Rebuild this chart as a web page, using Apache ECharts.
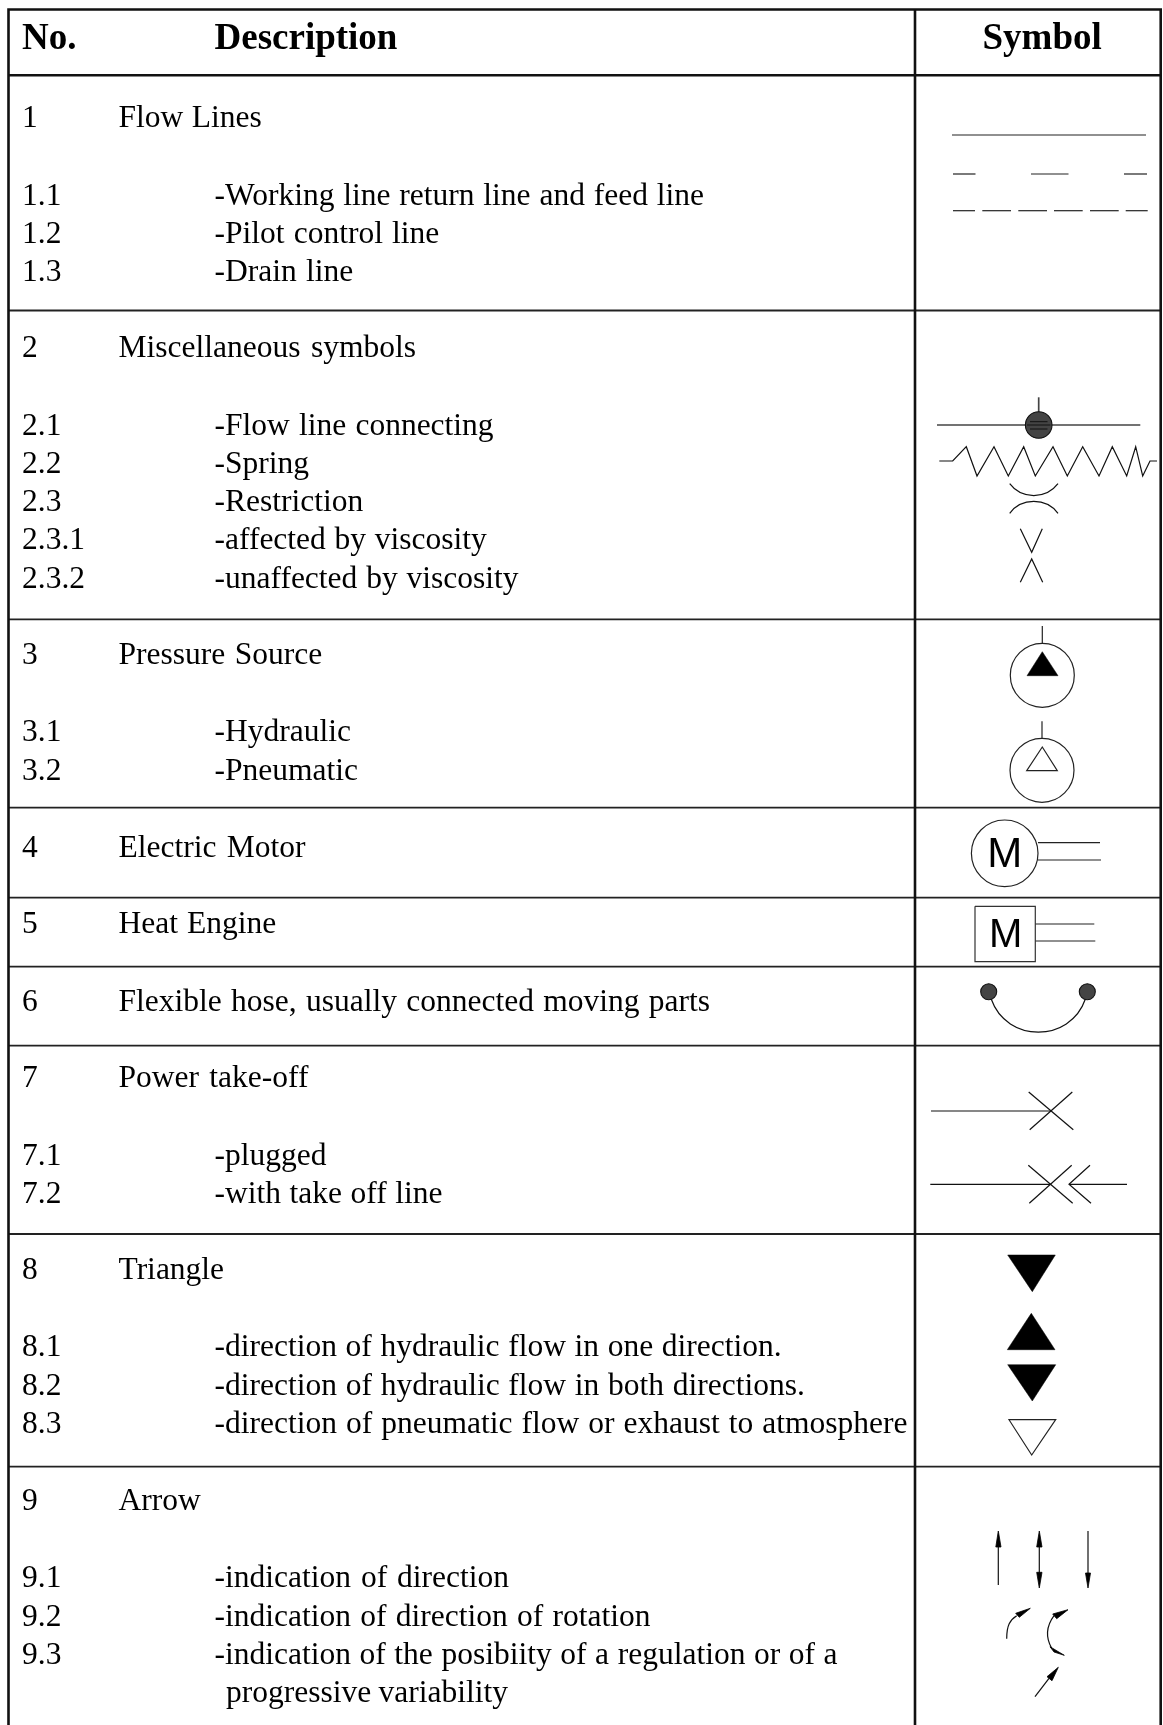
<!DOCTYPE html>
<html>
<head>
<meta charset="utf-8">
<title>Symbols</title>
<script src="https://cdn.jsdelivr.net/npm/echarts@6/dist/echarts.min.js"></script>
<style>
html, body { margin: 0; padding: 0; background: #fff; }
#table { width: 1163px; height: 1725px; }
</style>
</head>
<body>
<div id="table"></div>
<script>
// table text
var headLabels = ['No.', 'Description', 'Symbol'];
var headX = [22, 214.5, 982.5];
var headBaseline = 48.5;

var itemNos = ['1', '1.1', '1.2', '1.3', '2', '2.1', '2.2', '2.3', '2.3.1', '2.3.2', '3', '3.1', '3.2',
    '4', '5', '6', '7', '7.1', '7.2', '8', '8.1', '8.2', '8.3', '9', '9.1', '9.2', '9.3', ''];
var itemTexts = ['Flow Lines', '-Working line return line and feed line', '-Pilot control line', '-Drain line',
    'Miscellaneous symbols', '-Flow line connecting', '-Spring', '-Restriction', '-affected by viscosity', '-unaffected by viscosity',
    'Pressure Source', '-Hydraulic', '-Pneumatic',
    'Electric Motor', 'Heat Engine', 'Flexible hose, usually connected moving parts',
    'Power take-off', '-plugged', '-with take off line',
    'Triangle', '-direction of hydraulic flow in one direction.', '-direction of hydraulic flow in both directions.', '-direction of pneumatic flow or exhaust to atmosphere',
    'Arrow', '-indication of direction', '-indication of direction of rotation', '-indication of the posibiity of a regulation or of a', 'progressive variability'];
var itemBaselines = [126.7, 204, 242.3, 280.7, 356.7, 434, 472, 510.3, 548.7, 587.3, 663.3, 740.7, 779,
    856, 932.7, 1010.7, 1086, 1164.3, 1202.7, 1278.7, 1355.7, 1394.3, 1432.7, 1509.3, 1586.7, 1625, 1663.3, 1701.7];
var itemStarts = [118.5, 214.5, 214.5, 214.5, 118.5, 214.5, 214.5, 214.5, 214.5, 214.5, 118.5, 214.5, 214.5,
    118.5, 118.5, 118.5, 118.5, 214.5, 214.5, 118.5, 214.5, 214.5, 214.5, 118.5, 214.5, 214.5, 214.5, 226];
var itemEnds = [261.7, 704, 439.3, 353.3, 416, 493.6, 309, 365, 486.8, 518.6, 322.3, 351, 359.2,
    305.4, 276.3, 710, 308.4, 326.2, 442.5, 224.2, 781.7, 804.9, 907.5, 200.2, 509, 650.6, 837.6, 508];

// ruled lines, in page pixels of the hidden axes
var frameLeft = 8.5, frameRight = 1160.7, frameTop = 9.5, frameBottom = 1725, columnRule = 915;
var heavyRules = [75.3];
var rowRules = [310.5, 619.3, 807.7, 897.7, 966.7, 1045.7, 1234, 1466.7];

// symbol column: plain strokes [x1, y1, x2, y2, ...]
var flowLines = [[952, 135, 1146, 135],
    [953, 174, 975.5, 174], [1031, 174, 1068.5, 174], [1124, 174, 1147, 174],
    [953, 210.7, 975, 210.7], [982.3, 210.7, 1011, 210.7], [1018.3, 210.7, 1047, 210.7],
    [1054, 210.7, 1082.7, 210.7], [1090, 210.7, 1118.7, 210.7], [1125.7, 210.7, 1147.7, 210.7]];
var connectLines = [[937, 425, 1140.3, 425], [1038.7, 397.3, 1038.7, 412]];
var ballStripes = [[1030, 421.7, 1047.5, 421.7], [1027, 425, 1050.5, 425], [1030, 429, 1047.5, 429]];
var springLine = [939.3, 461, 952.7, 461, 966.3, 446.7, 977, 476, 994, 446.7, 1008.3, 476, 1023.7, 446.7, 1035.3, 476,
    1053, 446.7, 1067.3, 476, 1082.7, 446.7, 1099, 476, 1112.3, 446.7, 1126.7, 476, 1135.7, 446.7, 1142.7, 476, 1150, 461, 1157, 461];
var viscosityLines = [[1020.3, 528.7, 1031.7, 552.3, 1042.3, 528.7], [1020.3, 582.3, 1031.7, 559, 1042.7, 582.3]];
var pressureLines = [[1042.3, 626, 1042.3, 643.3], [1042, 721.3, 1042, 738.3]];
var motorLines = [[1038, 842.7, 1100, 842.7], [1038, 860, 1101, 860], [1035.3, 924, 1094.3, 924], [1035.3, 941, 1095.3, 941]];
var engineBox = [975, 906.3, 1035.3, 906.3, 1035.3, 961.7, 975, 961.7, 975, 906.3];
var takeOffLines = [[931, 1111, 1050.7, 1111], [1028.7, 1092, 1073.3, 1129.7], [1072.3, 1092, 1029.7, 1129.7],
    [930.3, 1184.3, 1050.7, 1184.3], [1028.3, 1165.3, 1072.7, 1203.3], [1071.7, 1165.3, 1029.3, 1203.3],
    [1090, 1165.3, 1069, 1184.3, 1091, 1203.3], [1069, 1184.3, 1127, 1184.3]];
var arrowShafts = [[998.3, 1585, 998.3, 1546], [1039.3, 1546, 1039.3, 1573], [1088, 1531, 1088, 1574], [1035, 1696.7, 1049, 1678.3]];

// closed shapes
var solidTriangles = [[1042.3, 651.7, 1027, 675.7, 1058, 675.7],
    [1007.7, 1255, 1055.3, 1255, 1032.3, 1291.7],
    [1031.3, 1313.3, 1007.3, 1349.7, 1055, 1349.7],
    [1007.7, 1364.7, 1055.7, 1364.7, 1032.3, 1401]];
var openTriangles = [[1042.3, 747, 1026.7, 770.7, 1057.3, 770.7], [1009, 1419.7, 1055.7, 1419.7, 1031.7, 1455]];
var arrowHeads = [[998.3, 1531, 995.8, 1547, 1001, 1547],
    [1039.3, 1531, 1036.7, 1547, 1042, 1547], [1039.3, 1588, 1036.7, 1572.3, 1042, 1572.3],
    [1088, 1588, 1085.5, 1573, 1090.5, 1573],
    [1030.3, 1608.3, 1015.7, 1613.3, 1019.3, 1617.3],
    [1068, 1609.7, 1052.7, 1614, 1056.7, 1618.7], [1064.3, 1655.3, 1050, 1646.7, 1054, 1652],
    [1058.3, 1667.3, 1047, 1676.7, 1052, 1680.7]];

// circles [x, y, r]
var openCircles = [[1042.3, 675.3, 32], [1042, 770.3, 32], [1004.7, 853.3, 33.3]];
var darkCircles = [[1038.7, 425, 13.3], [988.7, 991.7, 8], [1087.3, 991.7, 8]];

// curves [x1, y1, cx1, cy1, cx2, cy2, x2, y2]
var curves = [[1009.7, 483.7, 1021.5, 499.5, 1046, 499.5, 1058, 483.7],
    [1009.7, 513.3, 1021.5, 497.5, 1046, 497.5, 1058, 513.3],
    [991.3, 999.3, 1006.7, 1043, 1070, 1043, 1085.3, 999.3],
    [1006.7, 1638.7, 1006.7, 1625, 1010, 1620, 1016.7, 1615.7],
    [1054, 1615.7, 1046, 1626.7, 1046, 1638.3, 1051.7, 1648.3]];

// the two M letters [text, centre x, baseline, font size]
var motorLetters = [['M', 1004.7, 865.8, 42], ['M', 1005.7, 945.2, 40]];

var serif = '"Liberation Serif", "Times New Roman", serif';
var sans = '"Liberation Sans", Arial, sans-serif';
var bodySize = 31.5;
var middleShift = 0.24;

var measure = document.createElement('canvas').getContext('2d');
function textWidth(str, font) {
    measure.font = font;
    return measure.measureText(str).width;
}

// one entry per word so the loose word gaps of the original can be kept
var words = [];
itemNos.forEach(function(no, i) {
    if (no) words.push({ text: no, x: 22, y: itemBaselines[i] });
    var font = bodySize + 'px ' + serif;
    var parts = itemTexts[i].split(' ');
    var natural = parts.reduce(function(sum, p) { return sum + textWidth(p, font); }, 0);
    var gap = parts.length > 1 ? Math.max(3.5, (itemEnds[i] - itemStarts[i] - natural) / (parts.length - 1)) : 0;
    var x = itemStarts[i];
    parts.forEach(function(p) {
        words.push({ text: p, x: x, y: itemBaselines[i] });
        x += textWidth(p, font) + gap;
    });
});

function toPoints(api, flat) {
    var pts = [];
    for (var i = 0; i < flat.length; i += 2) pts.push(api.coord([flat[i], flat[i + 1]]));
    return pts;
}

function strokeSeries(lists, color, width) {
    return {
        type: 'custom', coordinateSystem: 'cartesian2d', silent: true, clip: false,
        data: lists.map(function(l, i) { return [i]; }),
        renderItem: function(params, api) {
            return {
                type: 'polyline',
                shape: { points: toPoints(api, lists[params.dataIndex]) },
                style: { stroke: color, lineWidth: width, fill: null }
            };
        }
    };
}

function fillSeries(lists, fill, stroke, width) {
    return {
        type: 'custom', coordinateSystem: 'cartesian2d', silent: true, clip: false,
        data: lists.map(function(l, i) { return [i]; }),
        renderItem: function(params, api) {
            return {
                type: 'polygon',
                shape: { points: toPoints(api, lists[params.dataIndex]) },
                style: { fill: fill, stroke: stroke, lineWidth: width }
            };
        }
    };
}

function circleSeries(list, fill, stroke, width) {
    return {
        type: 'custom', coordinateSystem: 'cartesian2d', silent: true, clip: false,
        data: list.map(function(c) { return [c[0], c[1], c[2]]; }),
        renderItem: function(params, api) {
            var p = api.coord([api.value(0), api.value(1)]);
            return {
                type: 'circle',
                shape: { cx: p[0], cy: p[1], r: api.value(2) },
                style: { fill: fill, stroke: stroke, lineWidth: width }
            };
        }
    };
}

function curveSeries(list, color, width) {
    return {
        type: 'custom', coordinateSystem: 'cartesian2d', silent: true, clip: false,
        data: list.map(function(l, i) { return [i]; }),
        renderItem: function(params, api) {
            var p = toPoints(api, list[params.dataIndex]);
            return {
                type: 'bezierCurve',
                shape: { x1: p[0][0], y1: p[0][1], cpx1: p[1][0], cpy1: p[1][1], cpx2: p[2][0], cpy2: p[2][1], x2: p[3][0], y2: p[3][1] },
                style: { stroke: color, lineWidth: width, fill: null }
            };
        }
    };
}

function textSeries(list, family, weight, color) {
    return {
        type: 'custom', coordinateSystem: 'cartesian2d', silent: true, clip: false,
        data: list.map(function(t, i) { return [i]; }),
        renderItem: function(params, api) {
            var t = list[params.dataIndex];
            var p = api.coord([t.x, t.y - middleShift * t.size]);
            return {
                type: 'text',
                x: p[0], y: p[1],
                style: {
                    text: t.text, fill: color,
                    font: weight + ' ' + t.size + 'px ' + family,
                    align: t.align || 'left', verticalAlign: 'middle'
                }
            };
        }
    };
}

var frameLines = [[frameLeft, frameBottom, frameLeft, frameTop, frameRight, frameTop, frameRight, frameBottom],
    [columnRule, frameTop, columnRule, frameBottom]].concat(heavyRules.map(function(y) {
    return [frameLeft, y, frameRight, y];
}));
var rowLines = rowRules.map(function(y) { return [frameLeft, y, frameRight, y]; });

var chart = echarts.init(document.getElementById('table'), null, { renderer: 'canvas' });
chart.setOption({
    animation: false,
    backgroundColor: '#fff',
    tooltip: { show: false },
    grid: { left: 0, right: 0, top: 0, bottom: 0 },
    xAxis: { type: 'value', min: 0, max: 1163, show: false },
    yAxis: { type: 'value', min: 0, max: 1725, inverse: true, show: false },
    series: [
        strokeSeries(rowLines, '#222', 1.8),
        strokeSeries(frameLines, '#111', 2.6),
        strokeSeries(flowLines, '#222', 1.2),
        strokeSeries(connectLines, '#444', 1.7),
        strokeSeries([springLine].concat(viscosityLines), '#111', 1.2),
        strokeSeries(pressureLines, '#222', 1.2),
        strokeSeries(motorLines, '#222', 1.2),
        strokeSeries([engineBox], '#333', 1.2),
        strokeSeries(takeOffLines, '#111', 1.2),
        strokeSeries(arrowShafts, '#111', 1.2),
        curveSeries(curves, '#111', 1.2),
        circleSeries(openCircles, '#fff', '#222', 1.2),
        circleSeries(darkCircles, '#444', '#111', 1.1),
        strokeSeries(ballStripes, '#111', 1),
        fillSeries(solidTriangles, '#000', '#000', 0.5),
        fillSeries(openTriangles, '#fff', '#222', 1.2),
        fillSeries(arrowHeads, '#000', '#000', 0.8),
        textSeries(motorLetters.map(function(m) {
            return { text: m[0], x: m[1], y: m[2], size: m[3], align: 'center' };
        }), sans, 'normal', '#000'),
        textSeries(headLabels.map(function(h, i) {
            return { text: h, x: headX[i], y: headBaseline, size: 37 };
        }), serif, 'bold', '#000'),
        textSeries(words.map(function(w) {
            return { text: w.text, x: w.x, y: w.y, size: bodySize };
        }), serif, 'normal', '#000')
    ]
});
window.onresize = function() { chart.resize(); };
</script>
</body>
</html>
